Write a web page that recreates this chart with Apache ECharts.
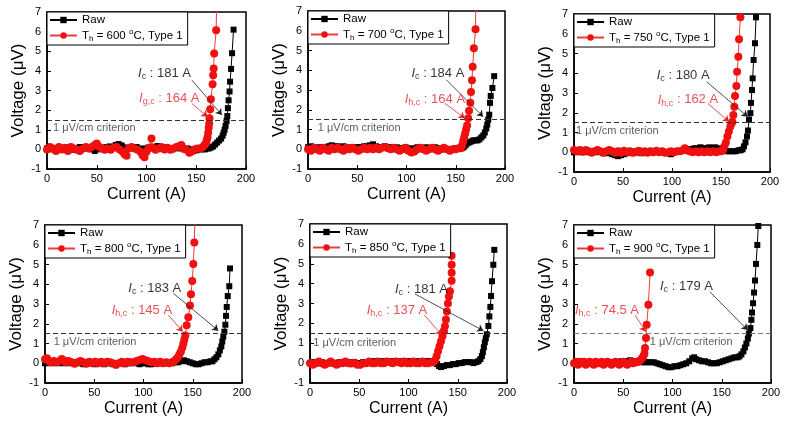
<!DOCTYPE html>
<html><head><meta charset="utf-8">
<script src="https://cdn.jsdelivr.net/npm/echarts/dist/echarts.min.js"></script>
<style>html,body{margin:0;padding:0;background:#fff}#c{width:790px;height:425px}</style>
</head><body><div id="c"></div>
<script>
// ---------- data ----------
const temps = ['600', '700', '750', '800', '850', '900'];
const icRaw = ['181', '184', '180', '183', '181', '179'];
const icHeat = ['164', '164', '162', '145', '137', '74.5'];
const heatSub = ['g,c', 'h,c', 'h,c', 'h,c', 'h,c', 'h,c'];
const xTicks = [0, 50, 100, 150, 200];
const yTicks = [-1, 0, 1, 2, 3, 4, 5, 6, 7];
const criterion = 1.5;

const raw600 = [[0,0.05],[3,0.12],[6,0.0],[9,0.05],[12,0.12],[15,-0.02],[18,0.05],[21,0.12],[24,0.05],[27,-0.02],[30,0.05],[33,0.12],[36,0.05],[39,0.12],[42,0.05],[45,0.0],[48,-0.08],[51,0.0],[54,0.05],[57,0.1],[60,0.1],[63,0.15],[66,0.1],[69,0.22],[72,0.27],[75,0.2],[78,0.1],[81,0.05],[84,0.1],[87,0.05],[90,0.12],[93,0.05],[96,0.0],[99,0.05],[102,0.1],[105,0.1],[108,0.12],[111,0.17],[114,0.1],[117,0.05],[120,0.12],[123,0.05],[126,0.0],[129,0.05],[132,0.12],[135,0.05],[138,0.0],[141,0.05],[144,0.0],[147,-0.08],[150,-0.05],[153,0.0],[156,0.0],[159,0.0],[161,0.05],[163,0.05],[165,0.1],[167,0.15],[169,0.25],[171,0.35],[173,0.45],[175,0.55],[176.5,0.7],[177.5,0.85],[178.5,1.0],[179.5,1.2],[180.5,1.45],[181.2,1.7],[181.8,2.1],[182.5,2.5],[183.5,2.95],[184,3.45],[185,4.1],[186,4.9],[187.5,6.1]];
const h600 = [[0,0.0],[3,0.12],[6,0.05],[9,-0.08],[12,0.12],[15,0.0],[18,0.08],[21,-0.08],[24,0.12],[27,0.05],[30,-0.02],[33,-0.08],[36,0.05],[39,0.12],[42,0.05],[45,0.12],[48,0.22],[50,0.3],[52,0.15],[55,0.05],[58,-0.02],[61,0.05],[64,-0.02],[67,0.08],[70,0.12],[73,0.0],[76,-0.12],[78,-0.25],[80,-0.32],[82,0.05],[85,0.12],[88,0.05],[91,-0.02],[94,-0.12],[96,-0.3],[98,-0.4],[100,-0.12],[102,0.05],[104,0.1],[105,0.55],[106,0.1],[109,-0.02],[112,0.05],[115,0.12],[118,0.0],[121,0.08],[124,-0.02],[127,0.05],[130,0.12],[133,0.17],[135,0.22],[137,0.05],[140,-0.02],[143,-0.17],[145,-0.12],[148,0.0],[151,0.05],[154,0.05],[156,0.1],[158,0.2],[159.5,0.3],[160.5,0.45],[161.3,0.6],[162,0.85],[162.5,1.1],[163,1.3],[163.3,1.58],[164,2.05],[164.7,2.56],[166.4,3.32],[167,3.78],[167.5,4.12],[168,4.88],[170,6.07],[171,9]];

const raw700 = [[0,0.1],[3,0.15],[6,0.1],[9,0.05],[12,0.1],[15,0.1],[18,0.05],[21,0.15],[24,0.2],[27,0.15],[30,0.15],[33,0.1],[36,0.15],[39,0.1],[42,0.1],[45,0.05],[48,0.1],[51,0.1],[54,0.1],[57,0.15],[60,0.15],[63,0.2],[66,0.25],[69,0.15],[72,0.1],[75,0.1],[78,0.15],[81,0.1],[84,0.1],[87,0.05],[90,0.1],[93,0.05],[96,0.05],[99,0.1],[102,0.05],[105,0.0],[108,0.05],[111,0.1],[114,0.05],[117,0.05],[120,0.1],[123,0.05],[126,0.05],[129,0.1],[132,0.05],[135,0.0],[138,0.05],[141,0.0],[144,0.0],[147,0.0],[150,0.05],[153,0.05],[156,0.05],[158,0.1],[160,0.2],[162,0.3],[164,0.35],[166,0.4],[168,0.45],[170,0.45],[172,0.45],[174,0.5],[176,0.6],[178,0.7],[179.5,0.85],[181,1.05],[182,1.25],[183,1.5],[184,1.75],[184.8,2.35],[185.5,2.7],[187.2,3.1],[189,3.7]];
const h700 = [[0,0.0],[3,-0.08],[6,0.08],[9,0.0],[12,-0.08],[15,0.08],[18,0.0],[21,-0.08],[24,0.08],[27,0.0],[30,0.08],[33,0.0],[36,-0.08],[39,0.08],[42,0.0],[45,0.08],[48,0.0],[51,-0.08],[54,0.0],[57,0.08],[60,0.0],[63,0.08],[66,0.0],[69,0.08],[72,0.0],[75,0.08],[78,0.12],[81,0.05],[84,0.0],[87,0.08],[90,0.0],[93,-0.08],[96,0.0],[99,0.08],[102,-0.08],[105,-0.17],[108,-0.12],[111,0.0],[114,0.08],[117,0.0],[120,-0.08],[123,0.0],[126,0.08],[129,0.0],[132,-0.08],[135,0.0],[138,0.08],[141,0.0],[144,-0.08],[147,0.0],[150,0.0],[153,0.05],[155,0.05],[156.5,0.2],[157.5,0.4],[158.5,0.6],[159.5,0.8],[160.5,1.0],[161.5,1.2],[162.6,1.57],[163.5,1.95],[164.8,2.36],[165.5,2.9],[166.5,3.5],[167.2,4.18],[168.4,5.11],[170.1,6.07],[170.5,9]];

const raw750 = [[0,0.0],[3,0.05],[6,0.0],[9,0.05],[12,0.0],[15,0.05],[18,0.0],[21,0.0],[24,0.05],[27,0.0],[30,-0.05],[33,0.0],[36,-0.05],[39,-0.1],[42,-0.15],[45,-0.2],[48,-0.15],[51,-0.1],[54,-0.05],[57,0.0],[60,0.0],[63,0.05],[66,0.0],[69,-0.05],[72,0.0],[75,0.05],[78,0.0],[81,0.0],[84,0.05],[87,0.0],[90,0.05],[93,0.0],[96,-0.05],[99,-0.1],[102,0.0],[105,0.05],[108,0.05],[111,0.1],[114,0.1],[117,0.15],[120,0.15],[123,0.2],[126,0.2],[129,0.25],[132,0.2],[135,0.2],[138,0.25],[141,0.2],[144,0.25],[147,0.2],[150,0.15],[153,0.1],[156,0.05],[159,0.05],[162,0.05],[165,0.05],[168,0.1],[170,0.1],[172,0.15],[173.5,0.3],[175,0.5],[176.5,0.8],[177.5,1.1],[178.6,1.65],[180,1.98],[180.6,2.5],[181.6,3.15],[182.3,3.74],[183.3,4.67],[184.7,5.52],[185.7,6.83],[187,9]];
const h750 = [[0,0.12],[3,0.05],[6,0.12],[9,0.02],[12,0.12],[15,0.05],[18,-0.02],[21,0.05],[24,0.12],[27,0.05],[30,-0.02],[33,0.05],[36,0.12],[39,0.05],[42,-0.02],[45,0.05],[48,-0.02],[51,0.08],[54,0.0],[57,0.05],[60,-0.02],[63,0.0],[66,0.08],[69,0.0],[72,0.05],[75,-0.02],[78,0.05],[81,0.0],[84,0.08],[87,0.0],[90,0.05],[93,-0.02],[96,0.0],[99,0.05],[102,0.0],[105,0.05],[108,0.05],[111,0.1],[113,0.2],[115,0.1],[118,0.05],[121,0.0],[124,0.05],[127,0.0],[130,0.05],[133,0.0],[136,0.05],[139,0.0],[142,0.05],[145,0.0],[148,0.05],[150,0.05],[152,0.1],[153.5,0.3],[155,0.5],[156.5,0.8],[158,1.05],[159.5,1.3],[160.8,1.45],[161.6,1.55],[162.6,1.89],[163.6,2.31],[164.3,2.85],[165.7,3.35],[166.4,4.08],[167.7,4.84],[168.4,5.72],[169.8,6.83],[170.5,9]];

const raw800 = [[0,0.0],[3,0.05],[6,0.0],[9,0.05],[12,0.0],[15,0.05],[18,0.0],[21,0.05],[24,0.0],[27,0.05],[30,0.0],[33,0.05],[36,0.0],[39,-0.05],[42,0.0],[45,0.05],[48,0.0],[51,-0.05],[54,0.0],[57,0.0],[60,-0.05],[63,0.0],[66,0.0],[69,-0.05],[72,-0.1],[75,0.0],[78,0.0],[81,-0.05],[84,0.0],[87,0.0],[90,0.05],[93,0.0],[96,-0.05],[99,0.0],[102,0.0],[105,-0.05],[108,-0.05],[111,0.0],[114,0.0],[117,0.0],[120,0.0],[123,0.0],[126,0.05],[129,0.0],[132,0.05],[135,0.05],[138,0.1],[141,0.15],[144,0.1],[147,0.05],[150,0.0],[153,-0.05],[156,-0.05],[159,0.0],[162,0.05],[165,0.05],[168,0.1],[170,0.1],[172,0.2],[174,0.3],[176,0.45],[177.5,0.65],[179,0.85],[180,1.1],[181,1.35],[182.1,1.6],[183.1,1.95],[183.8,2.4],[184.5,2.85],[185.5,3.4],[187.1,3.9],[187.8,4.8]];
const h800 = [[0,0.2],[2,0.25],[4,0.1],[6,0.05],[9,0.12],[12,0.05],[15,0.12],[17,0.22],[19,0.15],[21,0.05],[24,0.12],[27,0.05],[30,-0.02],[33,0.05],[36,0.12],[39,0.05],[42,-0.02],[45,0.08],[48,0.0],[51,0.08],[54,0.0],[57,0.08],[60,0.0],[63,0.08],[66,0.05],[69,0.0],[72,-0.08],[75,0.0],[78,0.08],[81,0.0],[84,0.08],[87,0.05],[90,0.05],[93,0.12],[96,0.17],[99,0.22],[102,0.15],[105,0.1],[108,0.05],[111,0.08],[114,0.0],[117,0.08],[120,0.0],[123,0.05],[126,0.0],[129,0.05],[131,0.1],[133,0.2],[135,0.3],[136.5,0.45],[138,0.6],[139.5,0.8],[140.5,1.0],[141.5,1.2],[142.5,1.4],[143.8,1.92],[145.5,2.33],[147.2,2.92],[148.2,3.5],[149.5,4.17],[150.6,5.03],[151.6,6.12],[153,9]];

const raw850 = [[0,0.0],[3,0.05],[6,0.0],[9,0.0],[12,0.05],[15,0.0],[18,0.0],[21,0.05],[24,0.0],[27,0.0],[30,0.05],[33,0.0],[36,0.0],[39,0.05],[42,0.0],[45,0.05],[48,0.0],[51,0.0],[54,0.05],[57,0.05],[60,0.05],[63,0.1],[66,0.05],[69,0.1],[72,0.05],[75,0.1],[78,0.1],[81,0.05],[84,0.1],[87,0.1],[90,0.05],[93,0.1],[96,0.05],[99,0.1],[102,0.05],[105,0.1],[108,0.1],[111,0.05],[114,0.1],[117,0.05],[120,0.1],[123,0.1],[126,0.05],[129,-0.05],[131,-0.15],[133,-0.2],[136,-0.15],[139,-0.1],[142,-0.1],[145,-0.05],[148,-0.05],[151,0.0],[154,0.0],[157,0.05],[160,0.05],[163,0.05],[166,0.0],[169,0.05],[171,0.1],[173,0.2],[174.5,0.35],[175.5,0.55],[176.5,0.8],[177.5,1.05],[178.5,1.25],[179.5,1.45],[181.1,1.87],[182.1,2.35],[183.1,2.83],[183.8,3.38],[184.8,4.12],[186.1,4.95],[187.1,5.7]];
const h850 = [[0,0.0],[3,-0.08],[6,0.0],[9,0.08],[12,0.0],[15,-0.08],[18,0.0],[21,0.08],[24,0.0],[27,-0.08],[30,0.0],[33,0.0],[36,0.08],[39,0.0],[42,-0.02],[45,0.02],[48,-0.08],[51,-0.08],[54,0.0],[57,0.0],[60,0.08],[63,0.0],[66,0.0],[69,0.08],[72,0.0],[75,0.0],[78,0.08],[81,0.05],[84,0.0],[87,0.08],[90,0.05],[93,0.0],[96,0.08],[99,0.0],[102,0.0],[105,0.08],[108,0.0],[111,0.0],[114,0.08],[117,0.0],[120,0.0],[123,0.05],[125,0.05],[127,0.15],[128.5,0.35],[130,0.6],[131.5,0.85],[133,1.1],[134.5,1.35],[136,1.6],[137,1.85],[138,2.2],[139,2.6],[140,3.0],[141,3.35],[142.1,3.62],[143.8,4.15],[143.8,4.55],[143.8,4.95],[143.8,5.4]];

const raw900 = [[0,0.0],[3,0.05],[6,0.0],[9,0.0],[12,0.05],[15,0.0],[18,0.0],[21,0.05],[24,0.0],[27,0.0],[30,0.05],[33,0.0],[36,0.05],[39,0.05],[42,0.05],[45,0.05],[48,0.1],[51,0.1],[54,0.1],[57,0.15],[60,0.1],[63,0.1],[66,0.1],[69,0.05],[72,0.05],[75,0.05],[78,0.05],[81,0.05],[84,0.0],[87,-0.05],[90,-0.1],[93,-0.15],[96,-0.2],[99,-0.2],[102,-0.15],[105,-0.15],[108,-0.1],[111,-0.05],[114,0.0],[117,0.1],[120,0.25],[122,0.3],[124,0.2],[127,0.15],[130,0.1],[133,0.1],[136,0.05],[139,0.0],[142,0.0],[145,0.0],[148,0.05],[151,0.1],[154,0.15],[157,0.2],[160,0.25],[163,0.3],[166,0.3],[168,0.35],[170,0.45],[172,0.6],[173.5,0.8],[175,1.0],[176.5,1.25],[177.5,1.5],[179.1,1.78],[180.1,2.2],[180.7,2.57],[181.8,3.04],[182.8,3.58],[183.8,4.19],[184.8,5.03],[186.1,5.99],[187.1,6.95],[188,9]];
const h900 = [[0,0.0],[2,0.08],[4,-0.08],[6,0.08],[8,0.0],[10,0.08],[12,-0.08],[14,0.0],[16,0.08],[18,0.0],[20,-0.08],[22,0.08],[24,0.0],[26,0.0],[28,0.08],[30,-0.08],[32,0.0],[34,0.08],[36,0.0],[38,-0.08],[40,0.0],[42,0.08],[44,0.0],[46,-0.08],[48,0.0],[50,0.08],[52,0.0],[54,-0.08],[56,0.0],[58,0.08],[60,0.0],[62,0.05],[64,0.05],[66,0.1],[67.5,0.15],[69,0.25],[70.5,0.35],[71.5,0.5],[72.1,0.77],[73.1,1.28],[73.8,1.95],[75.5,2.96],[77.2,4.59]];

const rawSets = [raw600, raw700, raw750, raw800, raw850, raw900];
const heatSets = [h600, h700, h750, h800, h850, h900];

// ---------- layout (pixels / data-space anchors for annotations) ----------
const grids = [
  {left: 47, top: 12, width: 199, height: 157},
  {left: 308, top: 11, width: 197, height: 158},
  {left: 574, top: 14, width: 196, height: 158},
  {left: 45, top: 225, width: 197, height: 158},
  {left: 310, top: 224, width: 197, height: 159},
  {left: 574, top: 225, width: 197, height: 158}
];
const ann = [
  {crit: [6, 1.07], blk: [91.5, 3.88], red: [92.5, 2.6], ba: [[145.6, 3.53], [175.8, 1.75]], ra: [[145.6, 2.34], [161.3, 1.66]], cc: '#333'},
  {crit: [10, 1.06], blk: [105, 3.85], red: [98.1, 2.53], ba: [[140.6, 3.51], [177.8, 1.65]], ra: [[138.9, 2.33], [159.2, 1.57]], cc: '#333'},
  {crit: [2, 1.09], blk: [84.4, 3.91], red: [85.4, 2.65], ba: [[135.4, 3.57], [177.2, 1.8]], ra: [[136.4, 2.48], [158.2, 1.55]], cc: '#333'},
  {crit: [8.8, 1.06], blk: [84.6, 3.79], red: [67.7, 2.7], ba: [[130.3, 3.54], [176, 1.65]], ra: [[125.2, 2.44], [139.8, 1.6]], cc: '#333'},
  {crit: [3.4, 1.0], blk: [86.3, 3.71], red: [57.6, 2.67], ba: [[106.6, 3.48], [176, 1.63]], ra: [[116, 2.42], [133.7, 1.42]], cc: '#333'},
  {crit: [77, 1.1], blk: [87.3, 3.91], red: [1, 2.7], ba: [[138, 3.62], [176.3, 1.68]], ra: [[61.9, 2.44], [72.8, 1.6]], cc: '#777'}
];

const FONT = '"Liberation Sans", Arial, sans-serif';
const RED = '#f01010';
const RED_LINE = '#ee3a3a';
const RED_TEXT = '#e3242b';

const legendRich = {
  n: {fontSize: 11.5, lineHeight: 15, fontFamily: FONT, color: '#000'},
  s: {fontSize: 8, verticalAlign: 'bottom', fontFamily: FONT, color: '#000'},
  p: {fontSize: 8, verticalAlign: 'top', fontFamily: FONT, color: '#000'}
};
const annRich = {
  i: {fontSize: 13, fontStyle: 'italic', lineHeight: 16, fontFamily: FONT},
  s: {fontSize: 9, verticalAlign: 'bottom', fontFamily: FONT},
  n: {fontSize: 13, lineHeight: 16, fontFamily: FONT}
};

const X0 = xTicks[0], X1 = xTicks[xTicks.length - 1];
const Y0 = yTicks[0], Y1 = yTicks[yTicks.length - 1];

const option = {
  animation: false,
  grid: grids.map(g => Object.assign({show: true, borderColor: '#000', borderWidth: 1.5}, g)),
  xAxis: [],
  yAxis: [],
  legend: grids.map((g, i) => ({
    left: g.left, top: g.top, orient: 'vertical', selectedMode: false,
    data: ['Raw', 'T' + temps[i]],
    backgroundColor: '#fff', borderColor: '#000', borderWidth: 1, borderRadius: 0,
    padding: [2, 5, 2, 2], itemGap: 2, itemWidth: 27, itemHeight: 8, z: 10,
    textStyle: {rich: legendRich, fontSize: 11.5},
    formatter: name => name === 'Raw' ? '{n|Raw}' : '{n|T}{s|h}{n| = ' + name.slice(1) + ' }{p|o}{n|C, Type 1}'
  })),
  series: []
};

grids.forEach((g, i) => {
  option.xAxis.push({
    type: 'value', gridIndex: i, min: X0, max: X1, interval: xTicks[1] - xTicks[0],
    name: 'Current (A)', nameLocation: 'middle', nameGap: 18,
    nameTextStyle: {fontSize: 16, color: '#000', fontFamily: FONT},
    axisLine: {show: true, onZero: false, lineStyle: {color: '#000', width: 1.5}},
    axisTick: {show: true, inside: true, length: 4, lineStyle: {color: '#000', width: 1}},
    axisLabel: {color: '#000', fontSize: 11, margin: 4, fontFamily: FONT},
    splitLine: {show: false}
  });
  option.yAxis.push({
    type: 'value', gridIndex: i, min: Y0, max: Y1, interval: yTicks[1] - yTicks[0],
    name: 'Voltage (\u03bcV)', nameLocation: 'middle', nameGap: 20,
    nameTextStyle: {fontSize: 17, color: '#000', fontFamily: FONT},
    axisLine: {show: true, onZero: false, lineStyle: {color: '#000', width: 1.5}},
    axisTick: {show: true, inside: true, length: 4, lineStyle: {color: '#000', width: 1}},
    axisLabel: {color: '#000', fontSize: 11, margin: 6, fontFamily: FONT},
    splitLine: {show: false}
  });
});

grids.forEach((g, i) => {
  const a = ann[i];
  option.series.push({
    type: 'line', name: 'Raw', xAxisIndex: i, yAxisIndex: i, data: rawSets[i],
    symbol: 'rect', symbolSize: 6, itemStyle: {color: '#000'}, lineStyle: {color: '#000', width: 1}, z: 2,
    markLine: {silent: true, symbol: 'none', label: {show: false},
      lineStyle: {type: [5, 3], color: a.cc, width: 1}, data: [{yAxis: criterion}]}
  });
  option.series.push({
    type: 'line', name: 'T' + temps[i], xAxisIndex: i, yAxisIndex: i, data: heatSets[i],
    symbol: 'circle', symbolSize: 8, itemStyle: {color: RED}, lineStyle: {color: RED_LINE, width: 1}, z: 3
  });
  option.series.push({
    type: 'scatter', xAxisIndex: i, yAxisIndex: i, symbolSize: 0, silent: true, z: 5,
    label: {show: true, position: 'right', distance: 0, rich: annRich},
    data: [
      {value: a.crit, label: {formatter: '1 \u03bcV/cm criterion', fontSize: 11, color: '#333', fontFamily: FONT}},
      {value: a.blk, label: {formatter: '{i|I}{s|c}{n| : ' + icRaw[i] + ' A}', color: '#000'}},
      {value: a.red, label: {formatter: '{i|I}{s|' + heatSub[i] + '}{n| : ' + icHeat[i] + ' A}', color: RED_TEXT}}
    ],
    markLine: {silent: true, symbol: ['none', 'arrow'], symbolSize: 6, label: {show: false},
      data: [
        [{coord: a.ba[0], lineStyle: {color: '#222', width: 0.8, type: 'solid'}}, {coord: a.ba[1]}],
        [{coord: a.ra[0], lineStyle: {color: RED_TEXT, width: 0.8, type: 'solid'}}, {coord: a.ra[1]}]
      ]}
  });
});

const chart = echarts.init(document.getElementById('c'), null, {renderer: 'canvas'});
chart.setOption(option);
</script>
</body></html>
